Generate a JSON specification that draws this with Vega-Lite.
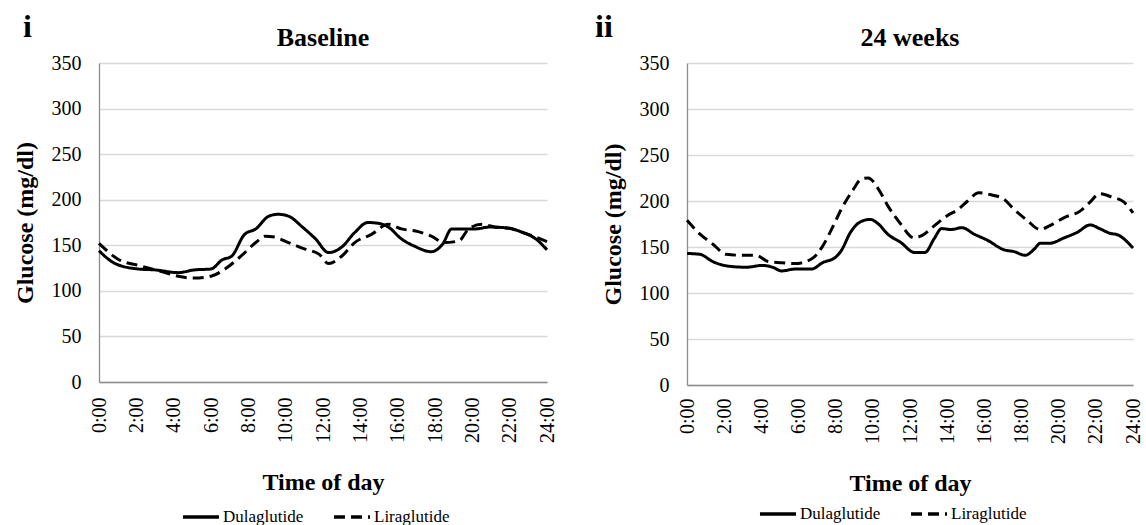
{
  "$schema": "https://vega.github.io/schema/vega-lite/v6.json",
  "background": "white",
  "padding": {"left": 13, "top": 11, "right": 0, "bottom": 2},
  "config": {
    "font": "Liberation Serif",
    "view": {"stroke": null},
    "axis": {
      "labelFont": "Liberation Serif", "titleFont": "Liberation Serif",
      "labelColor": "black", "titleColor": "black",
      "labelFontSize": 20, "titleFontSize": 24, "titleFontWeight": "bold",
      "domainColor": "#8c8c8c", "domainWidth": 1.3, "gridColor": "#d9d9d9", "gridWidth": 1.3
    },
    "legend": {
      "orient": "none", "direction": "horizontal",
      "symbolType": "stroke", "symbolStrokeColor": "black", "symbolStrokeWidth": 3.5,
      "symbolSize": 1300, "labelFont": "Liberation Serif", "labelFontSize": 17,
      "labelColor": "black", "columnPadding": 22, "labelOffset": 2
    },
    "title": {"font": "Liberation Serif", "fontSize": 26, "fontWeight": "bold", "color": "black"},
    "concat": {"spacing": 38}
  },
  "datasets": {
    "baseline": [
      {"drug": "Dulaglutide", "hour": 0, "glucose": 144},
      {"drug": "Dulaglutide", "hour": 0.86, "glucose": 130},
      {"drug": "Dulaglutide", "hour": 2.1, "glucose": 124},
      {"drug": "Dulaglutide", "hour": 3, "glucose": 123},
      {"drug": "Dulaglutide", "hour": 4.25, "glucose": 120},
      {"drug": "Dulaglutide", "hour": 5.1, "glucose": 123},
      {"drug": "Dulaglutide", "hour": 6, "glucose": 124},
      {"drug": "Dulaglutide", "hour": 6.6, "glucose": 134},
      {"drug": "Dulaglutide", "hour": 7.1, "glucose": 138},
      {"drug": "Dulaglutide", "hour": 7.8, "glucose": 162},
      {"drug": "Dulaglutide", "hour": 8.4, "glucose": 168},
      {"drug": "Dulaglutide", "hour": 9.1, "glucose": 182},
      {"drug": "Dulaglutide", "hour": 9.6, "glucose": 184},
      {"drug": "Dulaglutide", "hour": 10.15, "glucose": 182},
      {"drug": "Dulaglutide", "hour": 10.9, "glucose": 170},
      {"drug": "Dulaglutide", "hour": 11.6, "glucose": 157},
      {"drug": "Dulaglutide", "hour": 12.3, "glucose": 142},
      {"drug": "Dulaglutide", "hour": 13, "glucose": 148},
      {"drug": "Dulaglutide", "hour": 13.7, "glucose": 164},
      {"drug": "Dulaglutide", "hour": 14.4, "glucose": 175},
      {"drug": "Dulaglutide", "hour": 15, "glucose": 174},
      {"drug": "Dulaglutide", "hour": 15.5, "glucose": 170},
      {"drug": "Dulaglutide", "hour": 16.2, "glucose": 157},
      {"drug": "Dulaglutide", "hour": 16.9, "glucose": 149},
      {"drug": "Dulaglutide", "hour": 17.8, "glucose": 143},
      {"drug": "Dulaglutide", "hour": 18.4, "glucose": 151},
      {"drug": "Dulaglutide", "hour": 18.9, "glucose": 168},
      {"drug": "Dulaglutide", "hour": 19.4, "glucose": 168},
      {"drug": "Dulaglutide", "hour": 20.2, "glucose": 168},
      {"drug": "Dulaglutide", "hour": 20.9, "glucose": 170},
      {"drug": "Dulaglutide", "hour": 21.9, "glucose": 169},
      {"drug": "Dulaglutide", "hour": 22.7, "glucose": 164},
      {"drug": "Dulaglutide", "hour": 23.4, "glucose": 157},
      {"drug": "Dulaglutide", "hour": 24, "glucose": 145},
      {"drug": "Liraglutide", "hour": 0, "glucose": 152},
      {"drug": "Liraglutide", "hour": 1, "glucose": 135},
      {"drug": "Liraglutide", "hour": 2.3, "glucose": 127},
      {"drug": "Liraglutide", "hour": 3.4, "glucose": 121},
      {"drug": "Liraglutide", "hour": 4.25, "glucose": 116},
      {"drug": "Liraglutide", "hour": 5.1, "glucose": 114},
      {"drug": "Liraglutide", "hour": 6, "glucose": 116},
      {"drug": "Liraglutide", "hour": 6.75, "glucose": 124},
      {"drug": "Liraglutide", "hour": 7.6, "glucose": 138},
      {"drug": "Liraglutide", "hour": 8.4, "glucose": 153},
      {"drug": "Liraglutide", "hour": 8.9, "glucose": 160},
      {"drug": "Liraglutide", "hour": 9.4, "glucose": 159},
      {"drug": "Liraglutide", "hour": 10.15, "glucose": 153},
      {"drug": "Liraglutide", "hour": 11, "glucose": 146},
      {"drug": "Liraglutide", "hour": 11.8, "glucose": 140},
      {"drug": "Liraglutide", "hour": 12.3, "glucose": 130},
      {"drug": "Liraglutide", "hour": 13, "glucose": 138},
      {"drug": "Liraglutide", "hour": 13.7, "glucose": 153},
      {"drug": "Liraglutide", "hour": 14.6, "glucose": 162},
      {"drug": "Liraglutide", "hour": 15.5, "glucose": 173},
      {"drug": "Liraglutide", "hour": 16.2, "glucose": 168},
      {"drug": "Liraglutide", "hour": 17.1, "glucose": 165},
      {"drug": "Liraglutide", "hour": 17.8, "glucose": 160},
      {"drug": "Liraglutide", "hour": 18.5, "glucose": 153},
      {"drug": "Liraglutide", "hour": 19.3, "glucose": 155},
      {"drug": "Liraglutide", "hour": 19.8, "glucose": 168},
      {"drug": "Liraglutide", "hour": 20.5, "glucose": 173},
      {"drug": "Liraglutide", "hour": 21.2, "glucose": 170},
      {"drug": "Liraglutide", "hour": 22.1, "glucose": 168},
      {"drug": "Liraglutide", "hour": 23, "glucose": 162},
      {"drug": "Liraglutide", "hour": 24, "glucose": 154}
    ],
    "week24": [
      {"drug": "Dulaglutide", "hour": 0, "glucose": 143},
      {"drug": "Dulaglutide", "hour": 0.7, "glucose": 142},
      {"drug": "Dulaglutide", "hour": 1.4, "glucose": 134},
      {"drug": "Dulaglutide", "hour": 2.3, "glucose": 129},
      {"drug": "Dulaglutide", "hour": 3.2, "glucose": 128},
      {"drug": "Dulaglutide", "hour": 4.06, "glucose": 130},
      {"drug": "Dulaglutide", "hour": 4.6, "glucose": 128},
      {"drug": "Dulaglutide", "hour": 5.1, "glucose": 124},
      {"drug": "Dulaglutide", "hour": 5.8, "glucose": 126},
      {"drug": "Dulaglutide", "hour": 6.7, "glucose": 126},
      {"drug": "Dulaglutide", "hour": 7.3, "glucose": 133},
      {"drug": "Dulaglutide", "hour": 8.0, "glucose": 139},
      {"drug": "Dulaglutide", "hour": 8.3, "glucose": 146},
      {"drug": "Dulaglutide", "hour": 8.8, "glucose": 166},
      {"drug": "Dulaglutide", "hour": 9.3, "glucose": 177},
      {"drug": "Dulaglutide", "hour": 9.85, "glucose": 180},
      {"drug": "Dulaglutide", "hour": 10.3, "glucose": 175},
      {"drug": "Dulaglutide", "hour": 10.8, "glucose": 164},
      {"drug": "Dulaglutide", "hour": 11.5, "glucose": 155},
      {"drug": "Dulaglutide", "hour": 12.25, "glucose": 144},
      {"drug": "Dulaglutide", "hour": 12.8, "glucose": 144},
      {"drug": "Dulaglutide", "hour": 13.3, "glucose": 159},
      {"drug": "Dulaglutide", "hour": 13.7, "glucose": 170},
      {"drug": "Dulaglutide", "hour": 14.2, "glucose": 169},
      {"drug": "Dulaglutide", "hour": 14.8, "glucose": 171},
      {"drug": "Dulaglutide", "hour": 15.45, "glucose": 164},
      {"drug": "Dulaglutide", "hour": 16.2, "glucose": 157},
      {"drug": "Dulaglutide", "hour": 17.05, "glucose": 147},
      {"drug": "Dulaglutide", "hour": 17.6, "glucose": 145},
      {"drug": "Dulaglutide", "hour": 18.2, "glucose": 141},
      {"drug": "Dulaglutide", "hour": 18.7, "glucose": 148},
      {"drug": "Dulaglutide", "hour": 19.0, "glucose": 154},
      {"drug": "Dulaglutide", "hour": 19.5, "glucose": 154},
      {"drug": "Dulaglutide", "hour": 20.3, "glucose": 160},
      {"drug": "Dulaglutide", "hour": 21.0, "glucose": 166},
      {"drug": "Dulaglutide", "hour": 21.7, "glucose": 174},
      {"drug": "Dulaglutide", "hour": 22.2, "glucose": 170},
      {"drug": "Dulaglutide", "hour": 22.75, "glucose": 165},
      {"drug": "Dulaglutide", "hour": 23.2, "glucose": 163},
      {"drug": "Dulaglutide", "hour": 24, "glucose": 149},
      {"drug": "Liraglutide", "hour": 0, "glucose": 179},
      {"drug": "Liraglutide", "hour": 0.7, "glucose": 164},
      {"drug": "Liraglutide", "hour": 1.4, "glucose": 153},
      {"drug": "Liraglutide", "hour": 2.1, "glucose": 142},
      {"drug": "Liraglutide", "hour": 3.0, "glucose": 141},
      {"drug": "Liraglutide", "hour": 3.7, "glucose": 141},
      {"drug": "Liraglutide", "hour": 4.4, "glucose": 134},
      {"drug": "Liraglutide", "hour": 5.1, "glucose": 133},
      {"drug": "Liraglutide", "hour": 5.8, "glucose": 132},
      {"drug": "Liraglutide", "hour": 6.7, "glucose": 137},
      {"drug": "Liraglutide", "hour": 7.3, "glucose": 151},
      {"drug": "Liraglutide", "hour": 7.8, "glucose": 170},
      {"drug": "Liraglutide", "hour": 8.3, "glucose": 191},
      {"drug": "Liraglutide", "hour": 8.9, "glucose": 211},
      {"drug": "Liraglutide", "hour": 9.4, "glucose": 224},
      {"drug": "Liraglutide", "hour": 9.75, "glucose": 225},
      {"drug": "Liraglutide", "hour": 10.3, "glucose": 213},
      {"drug": "Liraglutide", "hour": 10.8, "glucose": 195},
      {"drug": "Liraglutide", "hour": 11.5, "glucose": 175},
      {"drug": "Liraglutide", "hour": 12.2, "glucose": 160},
      {"drug": "Liraglutide", "hour": 12.6, "glucose": 162},
      {"drug": "Liraglutide", "hour": 13.3, "glucose": 173},
      {"drug": "Liraglutide", "hour": 14.0, "glucose": 184},
      {"drug": "Liraglutide", "hour": 14.6, "glucose": 191},
      {"drug": "Liraglutide", "hour": 15.1, "glucose": 200},
      {"drug": "Liraglutide", "hour": 15.7, "glucose": 209},
      {"drug": "Liraglutide", "hour": 16.3, "glucose": 207},
      {"drug": "Liraglutide", "hour": 17.05, "glucose": 202},
      {"drug": "Liraglutide", "hour": 17.6, "glucose": 191},
      {"drug": "Liraglutide", "hour": 18.3, "glucose": 179},
      {"drug": "Liraglutide", "hour": 19.0, "glucose": 169},
      {"drug": "Liraglutide", "hour": 19.5, "glucose": 173},
      {"drug": "Liraglutide", "hour": 20.3, "glucose": 182},
      {"drug": "Liraglutide", "hour": 21.15, "glucose": 189},
      {"drug": "Liraglutide", "hour": 21.7, "glucose": 199},
      {"drug": "Liraglutide", "hour": 22.2, "glucose": 208},
      {"drug": "Liraglutide", "hour": 22.9, "glucose": 204},
      {"drug": "Liraglutide", "hour": 23.5, "glucose": 199},
      {"drug": "Liraglutide", "hour": 24, "glucose": 187}
    ]
  },
  "hconcat": [
    {
      "title": {"text": "i", "anchor": "start", "frame": "bounds", "fontSize": 32, "offset": -19, "dx": 10},
      "vconcat": [
        {
          "width": 448, "height": 319,
          "title": {"text": "Baseline", "offset": 2},
          "data": {"name": "baseline"},
          "mark": {"type": "line", "color": "black", "strokeWidth": 3, "interpolate": "monotone"},
          "encoding": {
            "x": {"field": "hour", "type": "quantitative", "scale": {"domain": [0, 24], "nice": false},
              "axis": {"values": [0, 2, 4, 6, 8, 10, 12, 14, 16, 18, 20, 22, 24], "labelExpr": "datum.value + ':00'",
                "labelFont": "Liberation Serif", "labelAngle": -90, "grid": false, "ticks": false, "labelPadding": 15, "title": "Time of day", "titlePadding": 28}},
            "y": {"field": "glucose", "type": "quantitative", "scale": {"domain": [0, 350], "nice": false},
              "axis": {"values": [0, 50, 100, 150, 200, 250, 300, 350], "labelFont": "Liberation Serif", "ticks": false, "labelPadding": 18, "title": "Glucose (mg/dl)", "titlePadding": 14}},
            "strokeDash": {"field": "drug", "type": "nominal",
              "scale": {"domain": ["Dulaglutide", "Liraglutide"], "range": [[1, 0], [11, 6]]},
              "legend": {"title": null, "legendX": 82, "legendY": 434}}
          }
        }
      ]
    },
    {
      "title": {"text": "ii", "anchor": "start", "frame": "bounds", "fontSize": 32, "offset": -19, "dx": -6},
      "vconcat": [
        {
          "width": 446, "height": 322,
          "title": {"text": "24 weeks", "offset": 2},
          "data": {"name": "week24"},
          "mark": {"type": "line", "color": "black", "strokeWidth": 3, "interpolate": "monotone"},
          "encoding": {
            "x": {"field": "hour", "type": "quantitative", "scale": {"domain": [0, 24], "nice": false},
              "axis": {"values": [0, 2, 4, 6, 8, 10, 12, 14, 16, 18, 20, 22, 24], "labelExpr": "datum.value + ':00'",
                "labelFont": "Liberation Serif", "labelAngle": -90, "grid": false, "ticks": false, "labelPadding": 13, "title": "Time of day", "titlePadding": 28}},
            "y": {"field": "glucose", "type": "quantitative", "scale": {"domain": [0, 350], "nice": false},
              "axis": {"values": [0, 50, 100, 150, 200, 250, 300, 350], "labelFont": "Liberation Serif", "ticks": false, "labelPadding": 18, "title": "Glucose (mg/dl)", "titlePadding": 14}},
            "strokeDash": {"field": "drug", "type": "nominal",
              "scale": {"domain": ["Dulaglutide", "Liraglutide"], "range": [[1, 0], [11, 6]]},
              "legend": {"title": null, "legendX": 71, "legendY": 431}}
          }
        }
      ]
    }
  ],
  "resolve": {"scale": {"strokeDash": "independent"}, "legend": {"strokeDash": "independent"}}
}
